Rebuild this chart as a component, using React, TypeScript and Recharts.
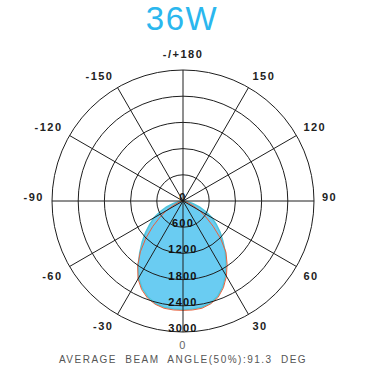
import React from 'react';
import { RadarChart, Radar, PolarGrid, PolarAngleAxis, PolarRadiusAxis } from 'recharts';

// beam angle (deg), 0 = straight down
const angles = [
  -90, -85, -80, -75, -70, -65, -60, -55, -50, -45, -40, -35, -30, -25, -20, -15, -10, -5, 0,
  5, 10, 15, 20, 25, 30, 35, 40, 45, 50, 55, 60, 65, 70, 75, 80, 85, 90,
];
// intensity, first C-plane (filled)
const planeA = [
  0, 30, 110, 240, 400, 580, 760, 930, 1120, 1320, 1540, 1790, 2030, 2210, 2340, 2430, 2470, 2485, 2485,
  2485, 2470, 2420, 2320, 2160, 1950, 1720, 1500, 1290, 1110, 930, 760, 580, 400, 240, 110, 30, 0,
];
// intensity, second C-plane (line)
const planeB = [
  0, 0, 20, 60, 140, 260, 430, 640, 900, 1200, 1520, 1810, 2060, 2240, 2370, 2450, 2495, 2505, 2505,
  2505, 2495, 2440, 2350, 2190, 1990, 1760, 1530, 1220, 900, 640, 430, 260, 140, 60, 20, 0, 0,
];

const angleTicks = [-150, -120, -90, -60, -30, 0, 30, 60, 90, 120, 150, 180];
const radiusTicks = [0, 600, 1200, 1800, 2400, 3000];

const data = angles.map((a, i) => ({ angle: a, c0: planeA[i], c90: planeB[i] }));

const FONT = '"Liberation Sans", Arial, sans-serif';

const chartProps = {
  width: 376,
  height: 376,
  data,
  cx: 183,
  cy: 201,
  outerRadius: 131,
  startAngle: 90,
  endAngle: 450,
  margin: { top: 0, right: 0, bottom: 0, left: 0 },
};

const AngleTick = (props: any) => {
  const { x, y, payload, textAnchor } = props;
  const v = payload.value;
  const isZero = v === 0;
  let dy = 0;
  if (v === 180) dy = -4;
  else if (Math.abs(v) > 90) dy = -1;
  else if (Math.abs(v) < 90) dy = 9;
  return (
    <text
      x={x}
      y={y}
      dy={dy}
      textAnchor={textAnchor}
      fontFamily={FONT}
      fontSize={11}
      fontWeight={isZero ? 400 : 700}
      letterSpacing={1.5}
      fill={isZero ? '#666' : '#222'}
    >
      {v === 180 ? '-/+180' : v}
    </text>
  );
};

const RadiusTick = (props: any) => {
  const { x, y, payload } = props;
  return (
    <text
      x={x}
      y={y}
      dy={0}
      textAnchor="middle"
      fontFamily={FONT}
      fontSize={11}
      fontWeight={700}
      letterSpacing={1.2}
      fill="#111"
    >
      {payload.value}
    </text>
  );
};

export default function App() {
  return (
    <div
      style={{
        position: 'absolute',
        left: 0,
        top: 0,
        width: 376,
        height: 376,
        background: '#fff',
        fontFamily: FONT,
      }}
    >
      <div
        style={{
          position: 'absolute',
          top: 0,
          left: 0,
          width: 364,
          textAlign: 'center',
          fontSize: 33,
          lineHeight: '38px',
          letterSpacing: 1.5,
          color: '#2bb7ee',
        }}
      >
        36W
      </div>

      {/* curves underneath */}
      <div style={{ position: 'absolute', left: 0, top: 0 }}>
        <RadarChart {...chartProps}>
          <PolarAngleAxis
            dataKey="angle"
            type="number"
            domain={[-180, 180]}
            ticks={angleTicks}
            tick={false}
            tickLine={false}
            axisLine={false}
          />
          <PolarRadiusAxis
            type="number"
            domain={[0, 3000]}
            ticks={radiusTicks}
            angle={270}
            tick={false}
            tickLine={false}
            axisLine={false}
          />
          <Radar
            dataKey="c0"
            fill="#6accf2"
            fillOpacity={1}
            stroke="#4fc4da"
            strokeWidth={1.5}
            isAnimationActive={false}
          />
          <Radar
            dataKey="c90"
            fill="none"
            fillOpacity={0}
            stroke="#e8623e"
            strokeWidth={1}
            isAnimationActive={false}
          />
        </RadarChart>
      </div>

      {/* grid and labels on top */}
      <div style={{ position: 'absolute', left: 0, top: 0 }}>
        <RadarChart {...chartProps}>
          <PolarGrid gridType="circle" stroke="#1e1e1e" strokeOpacity={1} />
          <PolarAngleAxis
            dataKey="angle"
            type="number"
            domain={[-180, 180]}
            ticks={angleTicks}
            tick={<AngleTick />}
            tickLine={false}
            axisLine={false}
            tickSize={8}
          />
          <PolarRadiusAxis
            type="number"
            domain={[0, 3000]}
            ticks={radiusTicks}
            angle={270}
            tick={<RadiusTick />}
            tickLine={false}
            axisLine={false}
          />
          <Radar
            dataKey="c0"
            fill="none"
            fillOpacity={0}
            stroke="none"
            isAnimationActive={false}
          />
        </RadarChart>
      </div>

      <div
        style={{
          position: 'absolute',
          top: 355,
          left: 0,
          width: 366,
          textAlign: 'center',
          fontSize: 10,
          lineHeight: '10px',
          letterSpacing: 1.5,
          wordSpacing: 4,
          color: '#555',
        }}
      >
        AVERAGE BEAM ANGLE(50%):91.3 DEG
      </div>
    </div>
  );
}
